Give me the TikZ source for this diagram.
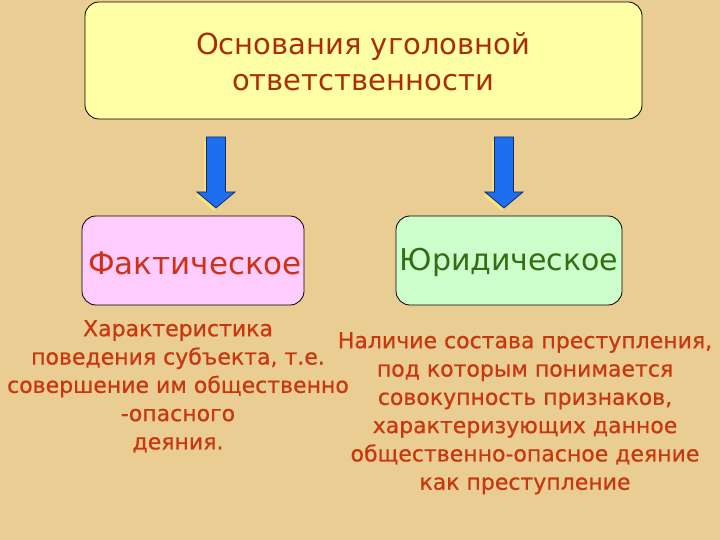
\documentclass[tikz,border=0pt]{standalone}
\usepackage{fontspec}
\setmainfont{DejaVu Sans}
\newfontfamily\bodyfont[FakeBold=0.6]{DejaVu Sans}
\begin{document}
\begin{tikzpicture}[x=1pt,y=-1pt,
  bx/.style={draw=black,line width=0.8pt,rounded corners=14pt},
  body/.style={font=\bodyfont\fontsize{22}{28.3}\selectfont,align=center,inner sep=0pt},
  blockarrow/.style={fill={rgb,255:red,30;green,110;blue,240},draw={rgb,255:red,20;green,40;blue,110},line width=0.8pt,line join=miter}]
\definecolor{bg}{RGB}{233,205,146}
\definecolor{topfill}{RGB}{255,255,165}
\definecolor{pinkfill}{RGB}{255,204,255}
\definecolor{greenfill}{RGB}{204,255,204}
\definecolor{titlecol}{RGB}{170,45,10}
\definecolor{redtxt}{RGB}{205,50,20}
\definecolor{greentxt}{RGB}{50,110,20}
\definecolor{bodytxt}{RGB}{200,55,15}
\fill[bg] (0,0) rectangle (720,540);
\useasboundingbox (0,0) rectangle (720,540);
% top box
\draw[bx,fill=topfill] (85,2) rectangle (642,119);
\node[text=titlecol,font=\fontsize{29}{36}\selectfont,align=center] (top) at (363,62) {Основания уголовной\\ответственности};
% sub boxes
\draw[bx,fill=pinkfill] (82,216) rectangle (304,305);
\node[text=redtxt,font=\fontsize{31}{34}\selectfont,inner sep=0pt] (fakt) at (195,263) {Фактическое};
\draw[bx,fill=greenfill] (396,216) rectangle (622,305);
\node[text=greentxt,font=\fontsize{30}{34}\selectfont,inner sep=0pt] (jur) at (509,262) {Юридическое};
% block arrows
\foreach \cx/\nm in {216/la,504/ra}{
  \fill[yellow!60!white,opacity=0.6] (\cx-12,140) -- (\cx+7,140) -- (\cx+7,195) -- (\cx+16,195) -- (\cx-2,211) -- (\cx-21,195) -- (\cx-12,195) -- cycle;
  \draw[blockarrow] (\cx-9.5,137) -- (\cx+9.5,137) -- (\cx+9.5,192) -- (\cx+19,192) -- (\cx,208) -- (\cx-19,192) -- (\cx-9.5,192) -- cycle;
}
% texts
\node[body,text=bodytxt,anchor=north] (ltext) at (178,320) {Характеристика\\поведения субъекта, т.е.\\совершение им общественно\\-опасного\\деяния.};
\node[body,text=bodytxt,anchor=north] (rtext) at (525,332) {Наличие состава преступления,\\под которым понимается\\совокупность признаков,\\характеризующих данное\\общественно-опасное деяние\\как преступление};
\end{tikzpicture}
\end{document}
